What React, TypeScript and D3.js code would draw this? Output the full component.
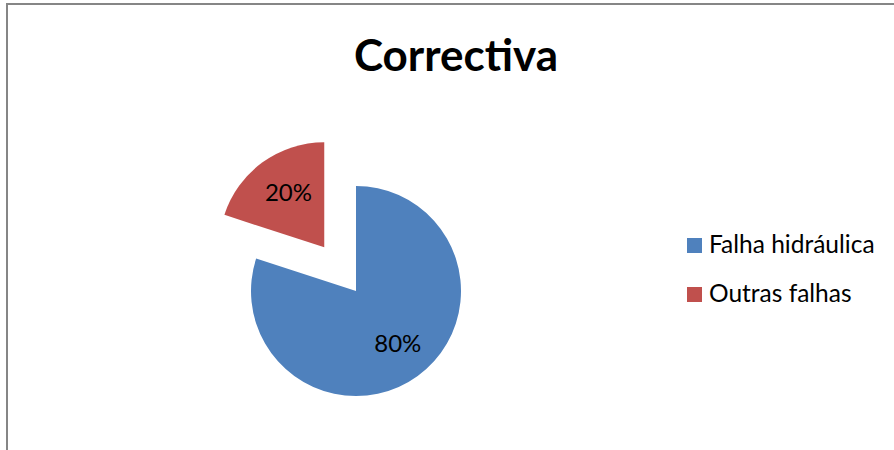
import React from "react";
import * as d3 from "d3";

const title = "Correctiva";
const categories = ["Falha hidráulica", "Outras falhas"];
const values = [80, 20];
const colors = ["#4F81BD", "#C0504D"];
const explode = [0, 54];

export default function App() {
  const W = 894, H = 450;
  const cx = 356, cy = 291, r = 105;
  const total = d3.sum(values);
  const pie = d3.pie<number>().sort(null).value((d) => d);
  const arcs = pie(values);
  const arc = d3.arc<d3.PieArcDatum<number>>().innerRadius(0).outerRadius(r);
  const labelArc = d3.arc<d3.PieArcDatum<number>>().innerRadius(66).outerRadius(66);
  const font = "Lato, 'Open Sans', sans-serif";
  return (
    <svg width={W} height={H} style={{ position: "absolute", left: 0, top: 0 }}>
      <rect x={0} y={0} width={W} height={H} fill="#fff" />
      <rect x={7} y={4} width={W + 10} height={H + 10} fill="none" stroke="#868686" strokeWidth={2} />
      <text x={456} y={71} textAnchor="middle" fontFamily={font} fontWeight="bold" fontSize={44} fill="#000">
        {title}
      </text>
      {arcs.map((a, i) => {
        const mid = (a.startAngle + a.endAngle) / 2;
        const dx = Math.sin(mid) * explode[i];
        const dy = -Math.cos(mid) * explode[i];
        const [lx, ly] = labelArc.centroid(a);
        return (
          <g key={i} transform={`translate(${cx + dx},${cy + dy})`}>
            <path d={arc(a) || ""} fill={colors[i]} />
            <text x={lx + 3} y={ly} dy="0.3em" textAnchor="middle" fontFamily={font} fontSize={24} fill="#000">
              {Math.round((values[i] / total) * 100) + "%"}
            </text>
          </g>
        );
      })}
      {categories.map((c, i) => (
        <g key={c} transform={`translate(687,${238 + i * 49})`}>
          <rect x={0} y={0} width={15} height={15} fill={colors[i]} />
          <text x={22} y={15} fontFamily={font} fontSize={24.5} fill="#000">
            {c}
          </text>
        </g>
      ))}
    </svg>
  );
}
